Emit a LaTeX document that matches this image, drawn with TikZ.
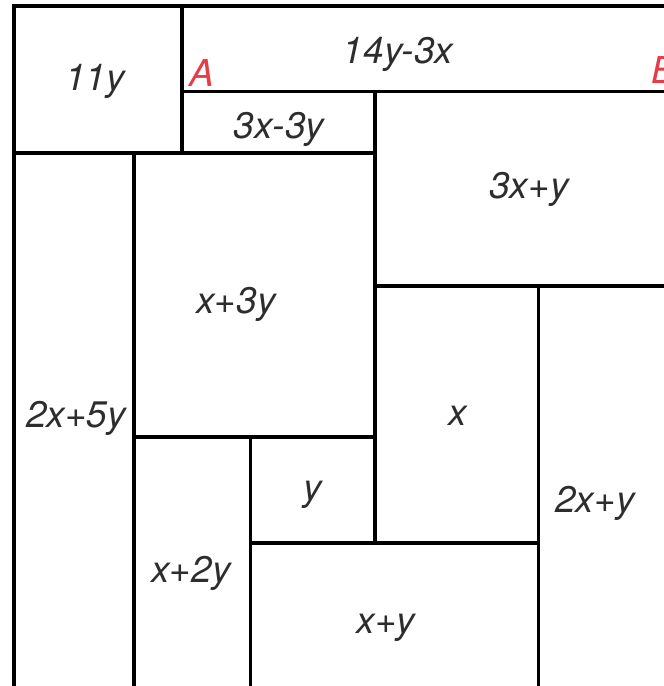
\documentclass[tikz,border=0pt]{standalone}
\usepackage{fontspec}
\setmainfont{TeX Gyre Heros}
\usetikzlibrary{positioning}
\definecolor{ink}{RGB}{45,45,45}
\definecolor{ptred}{RGB}{230,60,72}

\begin{document}
\begin{tikzpicture}[x=1pt,y=-1pt,line width=3.8pt,
    lbl/.style={font=\fontsize{37}{40}\selectfont\itshape,text=ink,anchor=base,inner sep=0pt},
    pt/.style={lbl,text=ptred,anchor=base west}]
        \clip (0,0) rectangle (664,686);
        % outer frame (right and bottom run off the page)
        \draw (664,6) -- (14,6) -- (14,690);
        % inner cuts
        \draw (182,6) -- (182,153);
        \draw (182,91.5) -- (670,91.5);
        \draw (14,153) -- (375,153);
        \draw (375,91.5) -- (375,543);
        \draw (375,286) -- (670,286);
        \draw (134,153) -- (134,690);
        \draw (134,437) -- (375,437);
        \draw (250.5,437) -- (250.5,690);
        \draw (250.5,543) -- (538.5,543);
        \draw (538.5,286) -- (538.5,690);
        % labels
        \node[lbl] (s11y) at (95,90) {11y};
        \node[lbl] (s14y) at (398,63) {14y-3x};
        \node[pt] (ptA) at (188,86) {A};
        \node[pt] (ptB) at (650,83) {B};
        \node[lbl] (s3x3y) at (279,138) {3x-3y};
        \node[lbl] (s3xy) at (529,198) {3x+y};
        \node[lbl] (sx3y) at (236,313) {x+3y};
        \node[lbl] (s2x5y) at (76,427) {2x+5y};
        \node[lbl] (sx) at (458,425) {x};
        \node[lbl] (sy) at (313,500) {y};
        \node[lbl] (s2xy) at (595,512) {2x+y};
        \node[lbl] (sx2y) at (191,582) {x+2y};
        \node[lbl] (sxy) at (386,633) {x+y};
      \end{tikzpicture}
\end{document}
